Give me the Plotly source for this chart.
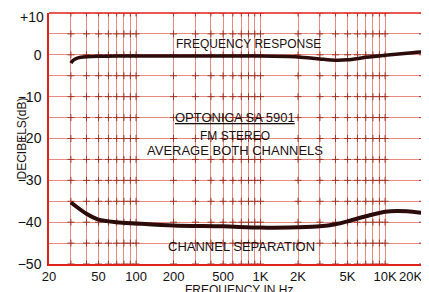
import plotly.graph_objects as go
import math

# ---- data ----
resp_freq = [30, 31, 33, 36, 40, 50, 70, 100, 200, 500, 1000, 2000, 3000, 4000, 5000, 7000, 10000, 15000, 20000]
resp_db = [-2.0, -1.4, -0.9, -0.6, -0.45, -0.35, -0.3, -0.3, -0.3, -0.3, -0.3, -0.5, -1.0, -1.3, -1.2, -0.6, -0.1, 0.4, 0.7]

sep_freq = [30, 40, 50, 70, 100, 200, 500, 1000, 2000, 3000, 4000, 5000, 7000, 10000, 15000, 20000]
sep_db = [-35.3, -38.0, -39.4, -40.0, -40.3, -40.8, -41.0, -41.3, -41.2, -41.0, -40.5, -39.8, -38.6, -37.5, -37.4, -37.8]

x_grid = [30, 40, 50, 60, 70, 80, 90, 100, 200, 300, 400, 500, 600, 700, 800, 900,
          1000, 2000, 3000, 4000, 5000, 6000, 7000, 8000, 9000, 10000, 20000]
x_labels = {20: "20", 50: "50", 100: "100", 200: "200", 500: "500", 1000: "1K",
            2000: "2K", 5000: "5K", 10000: "10K"}
x_edge_label = "20K"
y_grid = [10, 5, 0, -5, -10, -15, -20, -25, -30, -35, -40, -45, -50]
y_labels = {0: "0", -10: "\u221210", -20: "\u221220", -30: "\u221230", -40: "\u221240", -50: "\u221250"}
y_top_label = "+10"

GRID = "rgba(215,60,50,0.6)"
CURVE = "#2b0c0a"
FONT = "Liberation Sans"
X_MAX_LOG = 4.353

x_ticks = sorted(set([20] + x_grid))
fig = go.Figure()

# intersection marks
ix, iy = [], []
for xv in x_grid:
    for yv in y_grid:
        ix.append(xv)
        iy.append(yv)
fig.add_trace(go.Scatter(x=ix, y=iy, mode="markers",
                         marker=dict(symbol="cross-thin", size=5,
                                     line=dict(color="rgba(150,40,25,0.85)", width=1)),
                         hoverinfo="skip", showlegend=False))

fig.add_trace(go.Scatter(x=resp_freq, y=resp_db, mode="lines",
                         line=dict(color=CURVE, width=3.5, shape="spline", smoothing=0.8),
                         showlegend=False))
fig.add_trace(go.Scatter(x=sep_freq, y=sep_db, mode="lines",
                         line=dict(color=CURVE, width=4, shape="spline", smoothing=0.8),
                         showlegend=False))

fig.update_xaxes(type="log", range=[math.log10(20), X_MAX_LOG], automargin=False,
                 tickvals=x_ticks, ticktext=[x_labels.get(v, "") for v in x_ticks],
                 showgrid=True, gridcolor=GRID, gridwidth=1,
                 showline=True, linecolor="#e0201a", linewidth=1.5,
                 ticks="", tickfont=dict(family=FONT, size=13, color="#111"),
                 zeroline=False)
fig.update_yaxes(range=[-50, 10], automargin=False,
                 tickvals=y_grid, ticktext=[y_labels.get(v, "") for v in y_grid],
                 showgrid=True, gridcolor=GRID, gridwidth=1,
                 showline=True, linecolor="#e0201a", linewidth=1.5,
                 ticks="", ticklabelstandoff=3,
                 tickfont=dict(family=FONT, size=14, color="#111"),
                 zeroline=False)

fig.add_shape(type="line", xref="paper", yref="paper", x0=0, x1=1, y0=1, y1=1,
              line=dict(color="#e0201a", width=1.5))

def txt(x, y, s, size=12, **kw):
    fig.add_annotation(x=x, y=y, xref="x", yref="y", text=s, showarrow=False,
                       font=dict(family=FONT, size=size, color="#1a1010"), **kw)

txt(math.log10(800), 2.6, "FREQUENCY RESPONSE", 12)
txt(math.log10(620), -15.0, "<u>OPTONICA SA 5901</u>", 13)
txt(math.log10(620), -19.4, "FM STEREO", 12)
txt(math.log10(620), -22.8, "AVERAGE BOTH CHANNELS", 13)
txt(math.log10(700), -45.8, "CHANNEL SEPARATION", 13)

# edge labels that plotly would drop at the figure border
fig.add_annotation(x=1, y=0, xref="paper", yref="paper", yshift=-12, xshift=-6,
                   text=x_edge_label, showarrow=False, xanchor="right", yanchor="middle",
                   borderpad=0, font=dict(family=FONT, size=13, color="#111"))
fig.add_annotation(x=0, y=10, xref="paper", yref="y", xshift=-3, yshift=-4,
                   text=y_top_label, showarrow=False, xanchor="right", yanchor="middle",
                   font=dict(family=FONT, size=14, color="#111"))

fig.add_annotation(x=0.5, y=0, xref="paper", yref="paper", yshift=-26, yanchor="middle",
                   text="FREQUENCY IN Hz",
                   showarrow=False, font=dict(family=FONT, size=12, color="#1a1010"))
fig.add_annotation(x=0, y=0.5, xref="paper", yref="paper", xshift=-37, yshift=0,
                   text="DECIBELS(dB)", textangle=-90, showarrow=False,
                   font=dict(family=FONT, size=12, color="#1a1010"))

# page body adds an 8px offset, so the figure is 8px smaller than the window
fig.update_layout(width=421, height=284, margin=dict(l=41, r=0, t=5, b=28),
                  plot_bgcolor="white", paper_bgcolor="white")

fig.write_html("out.html")
